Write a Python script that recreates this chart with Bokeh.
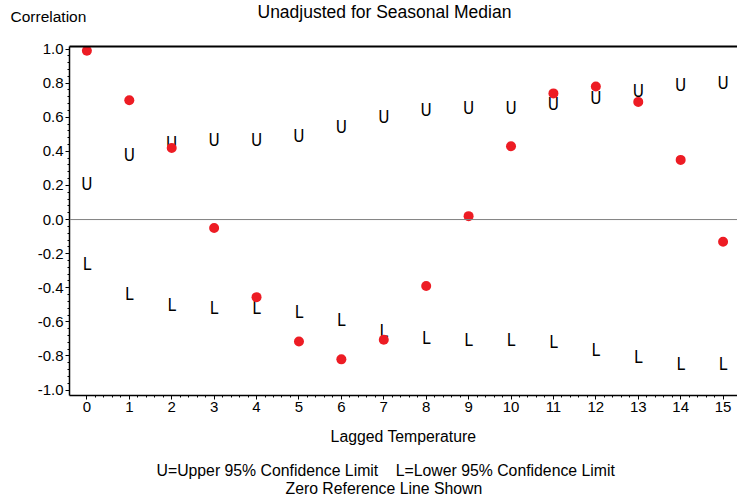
from bokeh.plotting import figure
from bokeh.models import (ColumnDataSource, Span, Range1d, FixedTicker, PrintfTickFormatter,
                          Title, LinearAxis)
from bokeh.embed import file_html
from bokeh.resources import INLINE
from bokeh.core.properties import value

# ---- data ----
lags = list(range(16))
correlation = [0.99, 0.70, 0.42, -0.05, -0.455, -0.715, -0.82, -0.705,
               -0.39, 0.02, 0.43, 0.74, 0.78, 0.69, 0.35, -0.13]
upper = [0.21, 0.38, 0.45, 0.465, 0.465, 0.49, 0.54, 0.60,
         0.645, 0.655, 0.655, 0.675, 0.715, 0.755, 0.79, 0.80]
lower = [-0.26, -0.435, -0.50, -0.52, -0.52, -0.545, -0.59, -0.655,
         -0.695, -0.705, -0.705, -0.72, -0.765, -0.805, -0.845, -0.85]
y_ticks = [-1.0, -0.8, -0.6, -0.4, -0.2, 0.0, 0.2, 0.4, 0.6, 0.8, 1.0]

FONT = "Liberation Sans"
SYM_FONT = "DejaVu Sans Condensed, Liberation Sans Narrow, Roboto Condensed, DejaVu Sans Mono"
RED = "#ED1C24"

src = ColumnDataSource(dict(lag=lags, corr=correlation, upper=upper, lower=lower))

p = figure(width=737, height=497, output_backend="svg", toolbar_location=None,
           x_range=Range1d(-0.41, 15.34), y_range=Range1d(-1.032, 1.015),
           min_border_left=69, min_border_top=46, min_border_right=0, min_border_bottom=102)
p.grid.visible = False
p.outline_line_color = None
p.background_fill_color = "white"
p.border_fill_color = "white"

xax = p.below[0]
yax = p.left[0]

# top frame line (an empty axis, so the frame has no right edge)
top_axis = LinearAxis(ticker=FixedTicker(ticks=[]), axis_line_color="black", axis_line_width=2,
                      major_tick_out=0, major_tick_in=0, minor_tick_out=0, minor_tick_in=0,
                      major_label_standoff=0)
p.add_layout(top_axis, "above")

# axes
xax.ticker = FixedTicker(ticks=lags, minor_ticks=[i / 5 for i in range(5 * lags[-1] + 1)])
yax.ticker = FixedTicker(ticks=y_ticks,
                         minor_ticks=[round(-1.0 + i * 0.04, 2) for i in range(51)])
yax.formatter = PrintfTickFormatter(format="%.1f")
for ax in (xax, yax):
    ax.axis_line_color = "black"
    ax.axis_line_width = 1.5
    ax.major_tick_line_color = "black"
    ax.minor_tick_line_color = "black"
    ax.major_tick_in = 0
    ax.minor_tick_in = 0
    ax.major_tick_out = 4
    ax.minor_tick_out = 2
    ax.major_label_text_font = FONT
    ax.major_label_text_font_size = "15px"
    ax.major_label_text_color = "black"
    ax.major_label_standoff = 2
xax.axis_label = "Lagged Temperature"
xax.axis_label_text_font = FONT
xax.axis_label_text_font_size = "15.8px"
xax.axis_label_text_font_style = "normal"
xax.axis_label_text_color = "black"
xax.axis_label_standoff = 13

# zero reference line
p.add_layout(Span(location=0, dimension="width", line_color="#808080", line_width=1))

# confidence limit symbols
p.text(x="lag", y="upper", text=value("U"), source=src, text_font=value(SYM_FONT),
       text_font_size="17px", text_align="center", text_baseline="middle", text_color="black")
p.text(x="lag", y="lower", text=value("L"), source=src, text_font=value(SYM_FONT),
       text_font_size="17px", text_align="center", text_baseline="middle", text_color="black")

# correlations
p.scatter(x="lag", y="corr", source=src, size=10, fill_color=RED, line_color=None)

# titles and footnotes
def ttl(text, side, offset, standoff, size="15.8px", valign="bottom"):
    p.add_layout(Title(text=text, align="left", offset=offset, standoff=standoff,
                       vertical_align=valign,
                       text_font=FONT, text_font_size=size, text_font_style="normal",
                       text_color="black"), side)

p.title.text = ""
ttl("Correlation", "above", -59, -78, size="15.5px", valign="top")
ttl("Unadjusted for Seasonal Median", "above", 188, -90, size="17.5px", valign="top")
ttl("U=Upper 95% Confidence Limit\u00a0\u00a0\u00a0\u00a0L=Lower 95% Confidence Limit", "below", 87, 24)
ttl("Zero Reference Line Shown", "below", 216, -20.3, valign="top")

open("out.html", "w").write(file_html(p, INLINE))
